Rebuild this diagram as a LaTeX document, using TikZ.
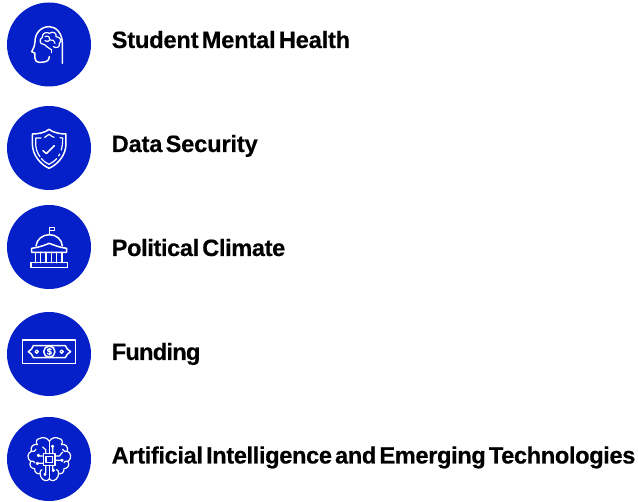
\documentclass[tikz,border=0pt]{standalone}
\usepackage{fontspec}
\setmainfont{Liberation Sans}[WordSpace=0.5,BoldFeatures={FakeBold=0.45}]
\definecolor{brandblue}{HTML}{0520C8}
\tikzset{
  disc/.style={circle,fill=brandblue,draw=none,minimum size=84pt,inner sep=0pt},
  topic/.style={anchor=base west,inner sep=0pt,font=\bfseries\fontsize{23.6}{26}\selectfont,text=black},
  icon/.style={draw=white,line width=1.5pt,line cap=round,line join=round},
  thin icon/.style={draw=white,line width=1.2pt,line cap=round,line join=round},
  zoomed/.style={x=.33333pt,y=-.33333pt}
}
\begin{document}
\begin{tikzpicture}[x=1pt,y=-1pt]
\useasboundingbox (0,0) rectangle (638,502);
\node[disc] (c1) at (49,44.5) {};
\node[disc] (c2) at (49,148) {};
\node[disc] (c3) at (49,247) {};
\node[disc] (c4) at (49,354) {};
\node[disc] (c5) at (49,459) {};
\node[topic] (t1) at (111.5,48) {\addfontfeature{LetterSpace=-0.7}Student Mental Health};
\node[topic] (t2) at (111.5,152) {\addfontfeature{LetterSpace=-0.6}Data Security};
\node[topic] (t3) at (111.5,256) {\addfontfeature{LetterSpace=-1.6}Political Climate};
\node[topic] (t4) at (111.5,360) {\addfontfeature{LetterSpace=-3.1}Funding};
\node[topic] (t5) at (111.5,463.5) {\addfontfeature{LetterSpace=-1.5}Artificial Intelligence and Emerging Technologies};
% head with brain
\begin{scope}[zoomed]
\draw[icon] (187,190) -- (187,130) .. controls (187,100) and (168,80) .. (148,80)
  .. controls (122,80) and (105,100) .. (105,125) .. controls (105,135) and (102,142) .. (95,155)
  -- (105,160) -- (105,175) .. controls (105,183) and (110,187) .. (118,187)
  .. controls (135,187) and (148,185) .. (148,170);
\draw[thin icon] (155,150) .. controls (145,145) and (140,138) .. (132,133)
  .. controls (120,135) and (115,118) .. (127,112)
  .. controls (125,98) and (142,95) .. (148,100)
  .. controls (158,92) and (172,100) .. (168,110)
  .. controls (182,110) and (186,125) .. (178,130)
  .. controls (182,142) and (168,146) .. (160,140);
\draw[thin icon] (155,150) -- (155,158);
\draw[thin icon] (135,110) .. controls (145,105) and (150,112) .. (150,120)
  .. controls (158,118) and (165,122) .. (165,130);
\draw[thin icon] (135,122) .. controls (140,125) and (145,125) .. (148,122);
\end{scope}
% shield
\begin{scope}[shift={(0,100)},zoomed]
\draw[icon] (147,88) .. controls (135,98) and (115,102) .. (97,102) -- (97,130)
  .. controls (97,165) and (120,192) .. (147,205)
  .. controls (175,192) and (198,165) .. (198,130) -- (198,102)
  .. controls (180,102) and (160,98) .. (147,88) -- cycle;
\draw[thin icon] (123,114) -- (107,114) -- (107,130) .. controls (107,145) and (112,160) .. (120,170);
\draw[thin icon] (124,176) .. controls (130,183) and (138,189) .. (147,193)
  .. controls (155,189) and (165,182) .. (170,176);
\draw[thin icon] (176,168) -- (179,162);
\draw[thin icon] (184,150) .. controls (187,140) and (188,130) .. (188,114) -- (180,113);
\draw[thin icon] (134,112) .. controls (139,110) and (143,106) .. (147,103) .. controls (151,106) and (156,110) .. (162,112);
\draw[icon] (129,152) -- (139,161) -- (163,137);
\end{scope}
% capitol
\begin{scope}[shift={(0,200)},zoomed]
\draw[icon] (148,104) -- (148,83) -- (163,83) -- (163,91) -- (149,91);
\draw[icon] (108,138) .. controls (110,118) and (128,104) .. (148,104) .. controls (168,104) and (186,118) .. (187,138);
\draw[icon] (95,157) -- (95,145) .. controls (115,143) and (135,135) .. (148,130)
  .. controls (161,135) and (180,143) .. (200,145) -- (200,157) -- cycle;
\foreach \cx in {107,122,138,154,170,186} \draw[icon] (\cx,157) -- (\cx,188);
\draw[icon] (93,188) rectangle (203,202);
\end{scope}
% banknote
\begin{scope}[shift={(0,305)},zoomed]
\draw[icon] (68,105) rectangle (227,175);
\draw[icon] (100,122) -- (196,122) .. controls (198,130) and (205,136) .. (212,140)
  .. controls (205,144) and (198,150) .. (196,158) -- (100,158)
  .. controls (98,150) and (92,144) .. (85,140) .. controls (92,136) and (98,130) .. (100,122) -- cycle;
\draw[icon] (148,140) circle[radius=17];
\node[inner sep=0pt,text=white,font=\bfseries\fontsize{9.5}{9.5}\selectfont] (dollar) at (148,140) {\$};
\draw[thin icon] (110,140) circle[radius=5];
\draw[thin icon] (185,140) circle[radius=5];
\end{scope}
% AI brain
\begin{scope}[shift={(0,402)},zoomed]
\foreach \m in {1,-1}{
\begin{scope}[xshift=49.33pt,xscale=\m]
\draw[thin icon] (0,118) .. controls (-5,108) and (-20,103) .. (-30,110)
  .. controls (-38,110) and (-42,120) .. (-36,128)
  .. controls (-48,124) and (-58,135) .. (-54,148)
  .. controls (-66,152) and (-68,170) .. (-56,178)
  .. controls (-62,190) and (-55,200) .. (-44,200)
  .. controls (-45,212) and (-35,218) .. (-28,214)
  .. controls (-28,228) and (-15,240) .. (-5,235) -- (0,230);
\draw[thin icon] (-54,148) .. controls (-48,150) and (-42,148) .. (-40,142);
\draw[thin icon] (-56,178) .. controls (-50,176) and (-46,178) .. (-44,182);
\draw[thin icon] (-28,214) .. controls (-28,208) and (-26,205) .. (-22,203);
\end{scope}}
\draw[icon] (130,155) rectangle (165,190);
\draw[thin icon] (138,163) rectangle (157,182);
\draw[thin icon] (158,155) -- (158,137) (158,133) circle[radius=3];
\draw[thin icon] (137,155) -- (137,143) -- (128,135);
\draw[thin icon] (130,162) -- (118,162) (115,160) circle[radius=3];
\draw[thin icon] (165,175) -- (182,175) (186,175) circle[radius=3];
\draw[thin icon] (130,184) -- (115,184) (112,184) circle[radius=3];
\draw[thin icon] (137,190) -- (137,212) (135,217) circle[radius=3];
\draw[thin icon] (158,190) -- (158,202) (160,205) circle[radius=3];
\draw[thin icon] (165,162) -- (178,162) -- (188,150);
\draw[thin icon] (148,118) -- (148,155);
\draw[thin icon] (148,190) -- (148,230);
\end{scope}
\end{tikzpicture}
\end{document}
